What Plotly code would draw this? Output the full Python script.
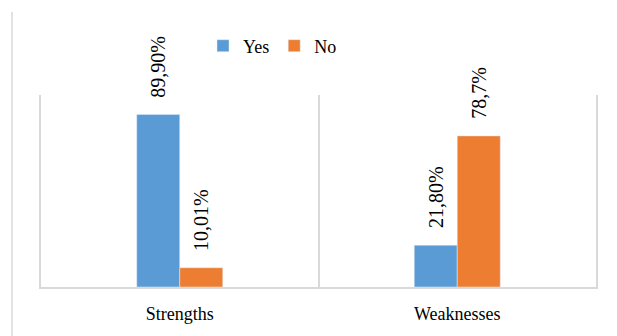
import plotly.graph_objects as go

categories = ["Strengths", "Weaknesses"]
yes_vals = [89.90, 21.80]
no_vals = [10.01, 78.7]
yes_labels = ["89,90%", "21,80%"]
no_labels = ["10,01%", "78,7%"]

BLUE = "#5B9BD5"
ORANGE = "#ED7D31"
GRID = "#d9d9d9"
FONT = "Liberation Serif"

fig = go.Figure()
fig.add_trace(go.Bar(x=categories, y=yes_vals, name="Yes", marker_color=BLUE))
fig.add_trace(go.Bar(x=categories, y=no_vals, name="No", marker_color=ORANGE))

for i, c in enumerate(categories):
    for vals, labs, shift in ((yes_vals, yes_labels, -21.5), (no_vals, no_labels, 21.5)):
        fig.add_annotation(
            x=c, y=vals[i], xref="x", yref="y", text=labs[i], showarrow=False,
            textangle=-90, xshift=shift, yshift=15, yanchor="bottom",
            font=dict(family=FONT, size=20, color="#000000"),
        )

L, R, T, B = 41, 21, 95, 49
PW, PH = 617 - L - R, 336 - T - B

fig.update_layout(
    width=617, height=336,
    margin=dict(l=L, r=R, t=T, b=B),
    font=dict(family=FONT, color="#000000"),
    paper_bgcolor="white", plot_bgcolor="white",
    barmode="group", bargap=0.69, bargroupgap=0,
    showlegend=True,
    legend=dict(orientation="h", x=(203 - L) / PW, xanchor="left",
                y=(336 - B - 46) / PH, yanchor="middle",
                font=dict(family=FONT, size=18, color="#000000"),
                itemwidth=30, tracegroupgap=0),
    xaxis=dict(type="category", showgrid=True, gridcolor=GRID, gridwidth=1.5,
               tickson="boundaries", ticks="", showline=True, linecolor=GRID,
               linewidth=1.5, tickfont=dict(family=FONT, size=18, color="#000000"),
               ticklabelstandoff=10, zeroline=False),
    yaxis=dict(range=[0, 100], showgrid=False, showticklabels=False, ticks="",
               zeroline=False, showline=True, mirror=True, linecolor=GRID,
               linewidth=1.5),
    shapes=[dict(type="line", xref="paper", yref="paper",
                 x0=(12 - L) / PW, x1=(12 - L) / PW,
                 y0=(336 - B - 12) / PH, y1=-B / PH - 0.01,
                 line=dict(color=GRID, width=1.5))],
)

fig.write_html("out.html")
